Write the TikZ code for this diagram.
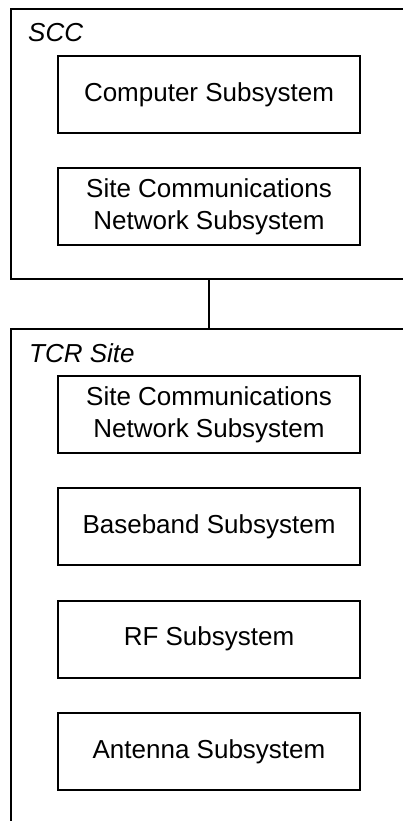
\documentclass[tikz,border=0pt]{standalone}
\usepackage{fontspec}
\setmainfont{Liberation Sans}
\usetikzlibrary{positioning}
\tikzset{
  sub/.style={draw, line width=1.8pt, minimum width=302pt, minimum height=77pt,
    align=center, inner sep=2pt, font=\fontsize{26}{32}\selectfont},
  grp/.style={draw, line width=2pt, anchor=north west, minimum width=396pt, inner sep=0pt},
  grplbl/.style={anchor=base west, inner sep=0pt, font=\fontsize{26}{32}\selectfont\itshape},
  link/.style={line width=2pt},
}

\begin{document}
\begin{tikzpicture}[x=1pt, y=-1pt, node distance=33.5pt]
  \clip (0,0) rectangle (403,821);
  % enclosing sites
  \node[grp, minimum height=270pt] (scc) at (10,8) {};
  \node[grp, minimum height=520pt] (tcr) at (10,328) {};
  \node[grplbl] (scclbl) at (28,42) {SCC};
  \node[grplbl] (tcrlbl) at (29,362) {TCR Site};
  % SCC subsystems
  \node[sub] (comp) at (209,94.5) {Computer Subsystem};
  \node[sub, below=of comp] (scns) {Site Communications\\Network Subsystem};
  % TCR subsystems
  \node[sub] (tscns) at (209,414.5) {Site Communications\\Network Subsystem};
  \node[sub, below=of tscns] (base) {Baseband Subsystem};
  \node[sub, below=of base] (rf) {RF Subsystem};
  \node[sub, below=of rf] (ant) {Antenna Subsystem};
  \draw[link] (scc.south) -- (tcr.north);
\end{tikzpicture}
\end{document}
